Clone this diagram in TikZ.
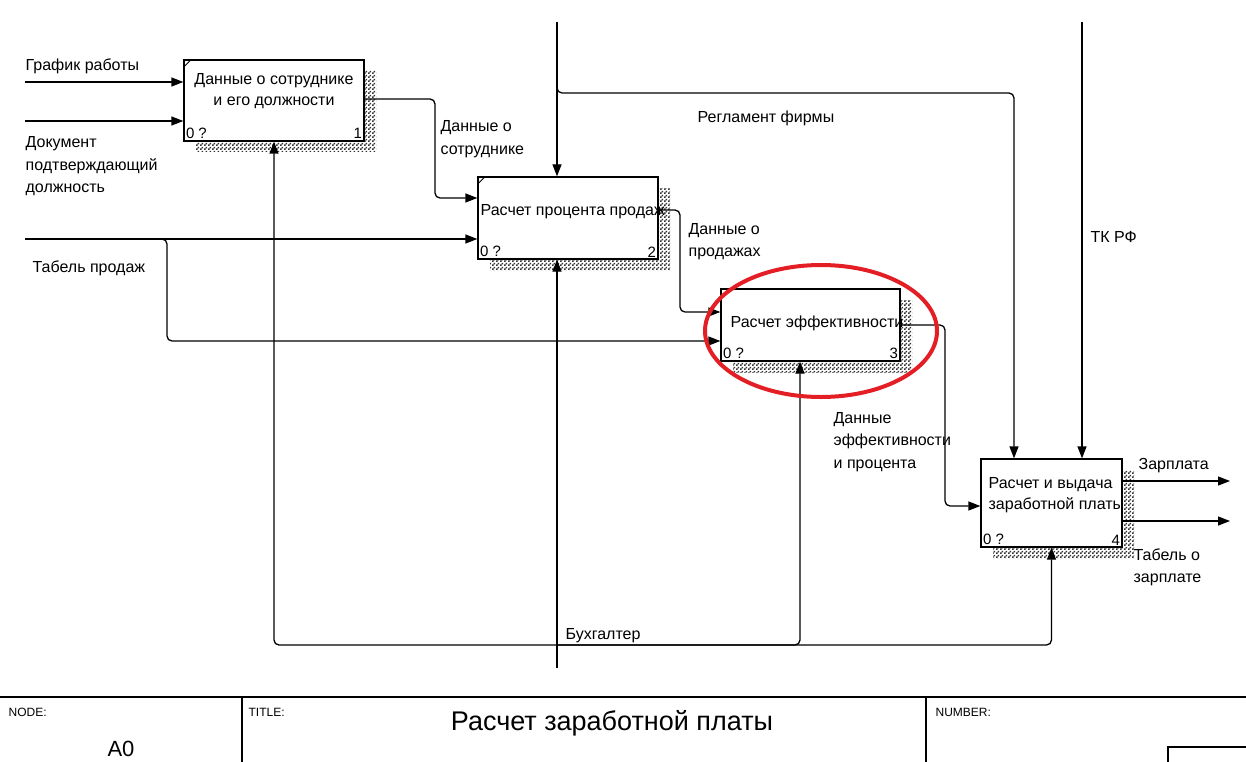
\documentclass[tikz,border=0pt]{standalone}
\usepackage{fontspec}
\setmainfont{Liberation Sans}
\usetikzlibrary{arrows.meta,shadows,patterns}
\definecolor{markred}{RGB}{228,30,37}
% checkered shadow of the IDEF0 boxes
\pgfdeclarepatternformonly{idefshade}{\pgfpointorigin}{\pgfpoint{4pt}{4pt}}{\pgfpoint{4pt}{4pt}}{%
  \pgfpathrectangle{\pgfpointorigin}{\pgfpoint{2pt}{2pt}}%
  \pgfpathrectangle{\pgfpoint{2pt}{2pt}}{\pgfpoint{2pt}{2pt}}%
  \pgfusepath{fill}}
\begin{document}
\begin{tikzpicture}[x=1pt,y=-1pt,
    line width=1.3pt,
    arr/.style={-{Triangle[length=12pt,width=9pt]}},
    conn/.style={arr,rounded corners=5pt},
    funcbox/.style={draw,fill=white,inner sep=0pt,
        drop shadow={shadow xshift=12pt,shadow yshift=-11pt,opacity=1,
            pattern=idefshade,pattern color=black!80}},
    lbl/.style={inner sep=0pt,anchor=base west,align=left,
        font=\fontsize{16}{22.5}\selectfont},
    boxtext/.style={inner sep=0pt,anchor=base,align=center,
        font=\fontsize{16}{21}\selectfont},
    cornertext/.style={inner sep=2pt,font=\fontsize{15}{17}\selectfont},
    small/.style={inner sep=0pt,anchor=base west,font=\fontsize{12}{14}\selectfont}]
  \useasboundingbox (0,0) rectangle (1246,762);
  % function boxes
  \node[funcbox,minimum width=180pt,minimum height=81pt] (b1) at (274,100.5) {};
  \node[funcbox,minimum width=180pt,minimum height=82pt] (b2) at (568,218) {};
  \node[funcbox,minimum width=179pt,minimum height=72pt] (b3) at (810.5,325) {};
  \node[funcbox,minimum width=141pt,minimum height=88pt] (b4) at (1051.5,503) {};
  \draw[line width=0.8pt] ([yshift=-8pt]b1.north west) -- ([xshift=8pt]b1.north west);
  \draw[line width=0.8pt] ([yshift=-8pt]b2.north west) -- ([xshift=8pt]b2.north west);
  % box texts (base = last line)
  \node[boxtext] (t1) at (274,106) {Данные о сотруднике\\и его должности};
  \node[boxtext,anchor=base west] (t2) at (480,215) {Расчет процента продаж};
  \node[boxtext,anchor=base west] (t3) at (730,327) {Расчет эффективности};
  \node[boxtext,anchor=base west,align=left] (t4) at (988,509) {Расчет и выдача\\заработной платы};
  \foreach \b/\n in {b1/1,b2/2,b3/3,b4/4}{
    \node[cornertext,anchor=south west] (\b z) at (\b.south west) {0 ?};
    \node[cornertext,anchor=south east] (\b n) at (\b.south east) {\n};
  }
  % inputs
  \coordinate (in1) at (25,82);
  \coordinate (in2) at (25,121);
  \coordinate (in3) at (25,239);
  \coordinate (tj) at (160,239);
  \coordinate (tb) at (167,341);
  \draw[arr] (in1) -- (in1 -| b1.west);
  \draw[arr] (in2) -- (in2 -| b1.west);
  \draw[arr] (in3) -- (in3 -| b2.west);
  \draw[conn] (tj) -| (tb) -- (tb -| b3.west);
  % outputs between boxes
  \coordinate (d1) at (435,198);
  \coordinate (d2) at (680,312);
  \coordinate (d3) at (945,506);
  \draw[conn] ([yshift=1.5pt]b1.east) -| (d1) -- (d1 -| b2.west);
  \draw[conn] ([yshift=8pt]b2.east) -| (d2) -- (d2 -| b3.west);
  \draw[conn] (b3.east) -| (d3) -- (d3 -| b4.west);
  \coordinate (o1) at (1230,481);
  \coordinate (o2) at (1230,521);
  \draw[arr] (o1 -| b4.east) -- (o1);
  \draw[arr] (o2 -| b4.east) -- (o2);
  % controls
  \coordinate (ctop) at (557,22);
  \coordinate (cj) at (557,85);
  \coordinate (rg) at (1014,93);
  \coordinate (tk) at (1082,22);
  \draw[arr] (ctop) -- (ctop |- b2.north);
  \draw[conn] (cj) |- (rg) -- (rg |- b4.north);
  \draw[arr] (tk) -- (tk |- b4.north);
  % mechanism
  \coordinate (mech) at (557,668);
  \coordinate (mj) at (557,645);
  \draw[arr] (mech) -- (mech |- b2.south);
  \draw[conn] (mj) -| (b1.south);
  \draw[conn] (mj) -| ([xshift=-10.5pt]b3.south);
  \draw[conn] (mj) -| (b4.south);
  % arrow labels (base = last line)
  \node[lbl] (lgr) at (25,71) {График работы};
  \node[lbl] (ldoc) at (25,193) {Документ\\подтверждающий\\должность};
  \node[lbl] (lds) at (440,154.5) {Данные о\\сотруднике};
  \node[lbl] (lreg) at (697,123) {Регламент фирмы};
  \node[lbl] (ltk) at (1090,242) {ТК РФ};
  \node[lbl] (ltab) at (32,272) {Табель продаж};
  \node[lbl] (ldp) at (688,256.5) {Данные о\\продажах};
  \node[lbl] (lde) at (833,468) {Данные\\эффективности\\и процента};
  \node[lbl] (lzp) at (1138,469) {Зарплата};
  \node[lbl] (ltz) at (1133,582.5) {Табель о\\зарплате};
  \node[lbl] (lbuh) at (565,639) {Бухгалтер};
  % highlight
  \draw[markred,line width=4pt] (821,331) ellipse [x radius=116,y radius=66];
  % frame
  \draw[line width=2.2pt] (0,697) -- (1246,697);
  \draw[line width=1.6pt] (242,697) -- (242,770);
  \draw[line width=1.6pt] (926,697) -- (926,770);
  \draw[line width=1.3pt] (1168,770) |- (1260,747);
  \node[small] (fnode) at (8,716) {NODE:};
  \node[small] (ftitle) at (248,716) {TITLE:};
  \node[small] (fnum) at (935,716) {NUMBER:};
  \node[inner sep=0pt,anchor=base,font=\fontsize{27}{30}\selectfont] (ttl) at (612,730) {Расчет заработной платы};
  \node[inner sep=0pt,anchor=base,font=\fontsize{22}{24}\selectfont] (a0) at (121,756) {A0};
\end{tikzpicture}
\end{document}
